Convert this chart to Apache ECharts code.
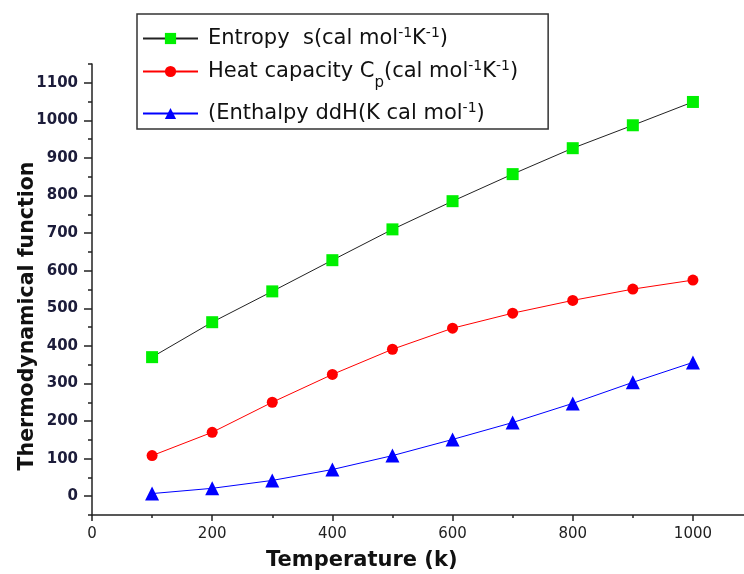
<!DOCTYPE html>
<html>
<head>
<meta charset="utf-8">
<script src="https://cdn.jsdelivr.net/npm/echarts@6/dist/echarts.min.js"></script>
<style>
  html, body { margin: 0; padding: 0; background: #fff; }
  #chart { width: 744px; height: 574px; }
</style>
</head>
<body>
<div id="chart"></div>
<script>
const temperature = [100, 200, 300, 400, 500, 600, 700, 800, 900, 1000];
const entropy = [370, 463, 545, 628, 710, 785, 857, 926, 987, 1049];
const heatCapacity = [108, 170, 250, 324, 391, 447, 487, 521, 551, 575];
const enthalpy = [7, 21, 42, 71, 108, 151, 196, 247, 303, 356];

const xLabels = [0, 200, 400, 600, 800, 1000];
const xMinorTicks = [0, 100, 200, 300, 400, 500, 600, 700, 800, 900, 1000];
const yLabels = [0, 100, 200, 300, 400, 500, 600, 700, 800, 900, 1000, 1100];
const yMinorTicks = [-50, 0, 50, 100, 150, 200, 250, 300, 350, 400, 450, 500, 550,
  600, 650, 700, 750, 800, 850, 900, 950, 1000, 1050, 1100, 1150];

const pairs = ys => temperature.map((t, i) => [t, ys[i]]);
const font = '"DejaVu Sans", sans-serif';

// legend labels, super/subscripts done with rich text
const legendText = {
  'Entropy': '{g|}{a|Entropy  s(cal mol}{s|-1}{a|K}{s|-1}{a|)}',
  'Heat capacity': '{g|}{a|Heat capacity C}{b|p}{a|(cal mol}{s|-1}{a|K}{s|-1}{a|)}',
  'Enthalpy': '{g|}{a|(Enthalpy ddH(K cal mol}{s|-1}{a|)}'
};

const axisLineStyle = { color: '#222', width: 1.5 };

const myChart = echarts.init(document.getElementById('chart'));
myChart.setOption({
  animation: false,
  backgroundColor: '#fff',
  grid: { left: 92, top: 64, right: 0, bottom: 59, containLabel: false },
  legend: {
    orient: 'vertical',
    left: 137,
    top: 14,
    padding: [12, 30, 5, 5],
    itemGap: 10,
    itemWidth: 55,
    itemHeight: 14,
    borderColor: '#333',
    borderWidth: 1.5,
    data: ['Entropy', 'Heat capacity', 'Enthalpy'],
    formatter: name => legendText[name],
    textStyle: {
      rich: {
        g: { width: 5 },
        a: { fontSize: 21, fontFamily: font, color: '#111', lineHeight: 25 },
        s: { fontSize: 14, fontFamily: font, color: '#111', verticalAlign: 'top', lineHeight: 12 },
        b: { fontSize: 15, fontFamily: font, color: '#111', verticalAlign: 'bottom', lineHeight: 12, padding: [0, 0, -7, 0] }
      }
    }
  },
  xAxis: [
    {
      type: 'value', min: 0, max: 1085, position: 'bottom',
      axisLine: { onZero: false, lineStyle: axisLineStyle },
      axisTick: { show: true, length: 6, customValues: xLabels, lineStyle: axisLineStyle },
      axisLabel: { customValues: xLabels, margin: 12, fontSize: 15, fontFamily: font, color: '#222',
        formatter: v => String(v) },
      splitLine: { show: false }
    },
    {
      type: 'value', min: 0, max: 1085, position: 'bottom',
      axisLine: { show: false, onZero: false },
      axisTick: { show: true, length: 3, customValues: xMinorTicks, lineStyle: axisLineStyle },
      axisLabel: { show: false },
      splitLine: { show: false }
    }
  ],
  yAxis: [
    {
      type: 'value', min: -50, max: 1150, position: 'left',
      axisLine: { show: true, onZero: false, lineStyle: axisLineStyle },
      axisTick: { show: true, length: 8, customValues: yLabels, lineStyle: axisLineStyle },
      axisLabel: { customValues: yLabels, margin: 14, fontSize: 15, fontWeight: 'bold', fontFamily: font, color: '#1c1c3a',
        formatter: v => String(v) },
      splitLine: { show: false }
    },
    {
      type: 'value', min: -50, max: 1150, position: 'left',
      axisLine: { show: false, onZero: false },
      axisTick: { show: true, length: 4, customValues: yMinorTicks, lineStyle: axisLineStyle },
      axisLabel: { show: false },
      splitLine: { show: false }
    }
  ],
  graphic: [
    {
      type: 'text', left: 266, top: 550,
      style: { text: 'Temperature (k)', font: 'bold 21px ' + font, fill: '#111' }
    },
    {
      type: 'text', x: 28, y: 316, rotation: Math.PI / 2,
      style: { text: 'Thermodynamical function', font: 'bold 20.5px ' + font, fill: '#111', align: 'center', verticalAlign: 'middle' }
    }
  ],
  series: [
    {
      name: 'Entropy', type: 'line', data: pairs(entropy),
      symbol: 'rect', symbolSize: 12,
      lineStyle: { color: '#222', width: 1 },
      itemStyle: { color: '#00f000', borderWidth: 0 }
    },
    {
      name: 'Heat capacity', type: 'line', data: pairs(heatCapacity),
      symbol: 'circle', symbolSize: 11,
      lineStyle: { color: '#ff0000', width: 1 },
      itemStyle: { color: '#ff0000', borderWidth: 0 }
    },
    {
      name: 'Enthalpy', type: 'line', data: pairs(enthalpy),
      symbol: 'triangle', symbolSize: 14,
      lineStyle: { color: '#0000ff', width: 1 },
      itemStyle: { color: '#0000ff', borderWidth: 0 }
    }
  ]
});
</script>
</body>
</html>
